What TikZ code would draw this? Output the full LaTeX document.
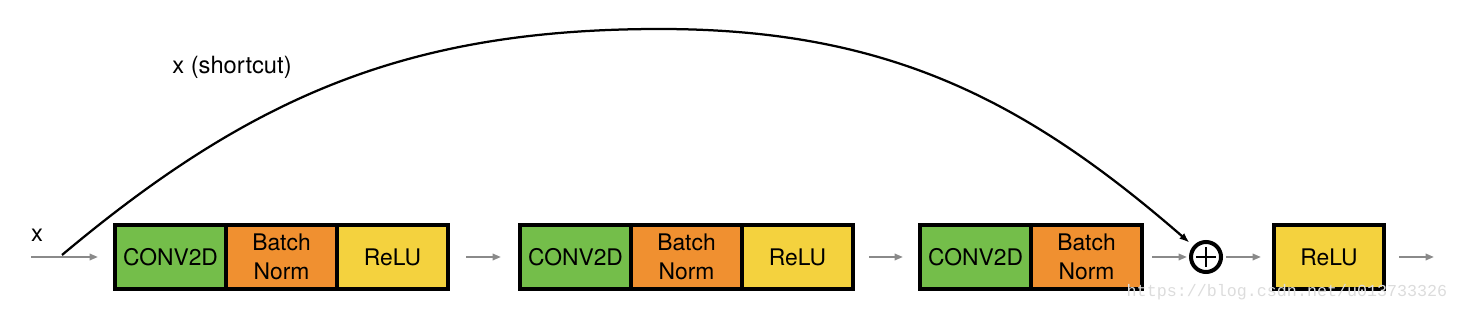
\documentclass[tikz,border=0pt]{standalone}
\usepackage{fontspec}
\setmainfont{TeX Gyre Heros}
\newfontfamily\markfont{Liberation Mono}
\usetikzlibrary{arrows.meta,positioning}
\definecolor{convgreen}{HTML}{74BE4A}
\definecolor{bnorange}{HTML}{F09030}
\definecolor{reluyellow}{HTML}{F4D23E}
\definecolor{wire}{HTML}{8A8A8A}
\definecolor{faint}{HTML}{DCDCDC}
\tikzset{
  link/.style={-{Triangle[length=0.17cm,width=0.13cm]},line width=0.04cm,draw=wire},
  skip/.style={-{Latex[length=0.2cm,width=0.15cm]},line width=0.045cm,draw=black},
  cell/.style={draw=black,line width=0.08cm,minimum width=2.22cm,minimum height=1.27cm,
               inner sep=0pt,outer sep=0pt,align=center,
               font=\fontsize{13}{16.4}\selectfont},
  conv/.style={cell,fill=convgreen},
  bnorm/.style={cell,fill=bnorange},
  relu/.style={cell,fill=reluyellow},
  addop/.style={circle,draw=black,line width=0.08cm,minimum size=0.6cm,inner sep=0pt,
                outer sep=0pt,fill=white,
                path picture={\draw[line width=0.05cm]
                  (path picture bounding box.center) +(-0.2,0) -- +(0.2,0)
                  (path picture bounding box.center) +(0,-0.2) -- +(0,0.2);}},
  tag/.style={font=\fontsize{13.5}{16}\selectfont},
}
\begin{document}
\begin{tikzpicture}
    \useasboundingbox (0,0) rectangle (29.16,6.24);
    % first block
    \node[conv] (c1) at (3.41,1.1) {CONV2D};
    \node[bnorm,right=0pt of c1] (b1) {Batch\\Norm};
    \node[relu,right=0pt of b1] (r1) {ReLU};
    % second block
    \node[conv,right=1.44cm of r1] (c2) {CONV2D};
    \node[bnorm,right=0pt of c2] (b2) {Batch\\Norm};
    \node[relu,right=0pt of b2] (r2) {ReLU};
    % third block, no activation
    \node[conv,right=1.34cm of r2] (c3) {CONV2D};
    \node[bnorm,right=0pt of c3] (b3) {Batch\\Norm};
    \node[addop,right=0.98cm of b3] (add) {};
    \node[relu,minimum width=2.2cm,right=1.06cm of add] (r4) {ReLU};
    \coordinate (in) at (0.62,1.1);
    \coordinate (out) at (28.68,1.1);
    \coordinate (sc) at (1.24,1.14);
    \coordinate (top) at (13.2,5.66);
    \draw[link,shorten >=0.34cm] (in) -- (c1);
    \draw[link,shorten <=0.36cm,shorten >=0.38cm] (r1) -- (c2);
    \draw[link,shorten <=0.32cm,shorten >=0.34cm] (r2) -- (c3);
    \draw[link,shorten <=0.2cm,shorten >=0.08cm] (b3) -- (add);
    \draw[link,shorten <=0.1cm,shorten >=0.26cm] (add) -- (r4);
    \draw[link,shorten <=0.3cm] (r4) -- (out);
    % shortcut path
    \draw[skip,shorten >=0.14cm] (sc) to[out=40,in=180] (top)
      to[out=0,in=139] (add);
    \node[tag] (xin) at (0.74,1.54) {x};
    \node[tag] (xsc) at (4.64,4.9) {x (shortcut)};
    \node[font=\markfont\fontsize{9.5}{11}\selectfont,text=faint] (wm) at (25.74,0.4)
      {https://blog.csdn.net/u013733326};
\end{tikzpicture}
\end{document}
